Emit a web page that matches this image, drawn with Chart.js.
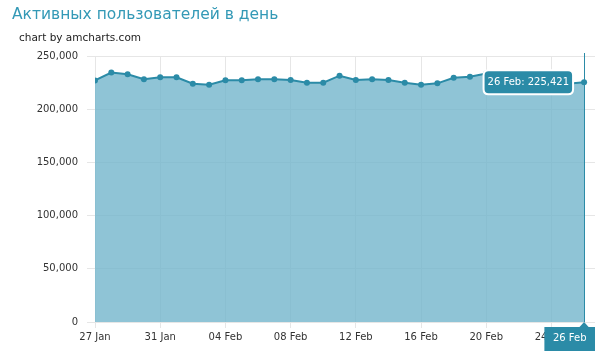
<!DOCTYPE html>
<html>
<head>
<meta charset="utf-8">
<script src="https://cdn.jsdelivr.net/npm/chart.js@4/dist/chart.umd.min.js"></script>
<style>
  html, body { margin: 0; padding: 0; background: #fff; }
  #wrap { position: relative; width: 600px; height: 353px; overflow: hidden; }
  #chart { position: absolute; left: 0; top: 0; }
  .title { position: absolute; left: 12px; top: 4px; font-family: "DejaVu Sans", Verdana, sans-serif; font-size: 15.5px; line-height: 20px; color: #3399b6; white-space: nowrap; }
  .sub { position: absolute; left: 19px; top: 31px; font-family: "DejaVu Sans", Verdana, sans-serif; font-size: 10.5px; line-height: 13px; color: #222; white-space: nowrap; }
</style>
</head>
<body>
<div id="wrap">
  <canvas id="chart" width="600" height="353"></canvas>
  <div class="title">Активных пользователей в день</div>
  <div class="sub">chart by amcharts.com</div>
</div>
<script>
// ---- data ----
const dates = ["27 Jan","28 Jan","29 Jan","30 Jan","31 Jan",
  "01 Feb","02 Feb","03 Feb","04 Feb","05 Feb","06 Feb","07 Feb","08 Feb","09 Feb","10 Feb",
  "11 Feb","12 Feb","13 Feb","14 Feb","15 Feb","16 Feb","17 Feb","18 Feb","19 Feb","20 Feb",
  "21 Feb","22 Feb","23 Feb","24 Feb","25 Feb","26 Feb"];
const users = [227000,234500,232800,228100,230000,
  230000,224000,223000,227200,227200,228100,228100,227400,224900,224900,
  231500,227400,228100,227400,224900,223000,224300,229600,230500,233500,
  233000,231000,229000,226000,224000,225421];
const xTickIndexes = [0,4,8,12,16,20,24,28];
const yTickValues = [0,50000,100000,150000,200000,250000];
const cursorIndex = 30;

const teal = '#2b8ba7';
const fontFamily = '"DejaVu Sans", Verdana, sans-serif';
const fmt = v => String(Math.round(v)).replace(/\B(?=(\d{3})+(?!\d))/g, ',');

const cursorPlugin = {
  id: 'cursorPlugin',
  afterDraw(chart) {
    const ctx = chart.ctx;
    const area = chart.chartArea;
    const x = chart.scales.x.getPixelForValue(cursorIndex);
    ctx.save();
    ctx.strokeStyle = teal;
    ctx.lineWidth = 1;
    ctx.beginPath();
    ctx.moveTo(Math.round(x) + 0.5, area.top - 3);
    ctx.lineTo(Math.round(x) + 0.5, area.bottom);
    ctx.stroke();

    const label = dates[cursorIndex];
    ctx.font = '10px ' + fontFamily;
    const w = ctx.measureText(label).width + 17;
    const h = 24;
    const top = area.bottom + 5;
    let left = x - w / 2;
    left = Math.min(left, chart.width - 5 - w);
    ctx.fillStyle = teal;
    ctx.fillRect(left, top, w, h);
    ctx.beginPath();
    ctx.moveTo(x - 5, top + 0.5);
    ctx.lineTo(x, area.bottom);
    ctx.lineTo(x + 5, top + 0.5);
    ctx.closePath();
    ctx.fill();
    ctx.fillStyle = '#fff';
    ctx.textAlign = 'center';
    ctx.textBaseline = 'middle';
    ctx.fillText(label, left + w / 2, top + h / 2 - 1);
    ctx.restore();
  }
};

const chart = new Chart(document.getElementById('chart'), {
  type: 'line',
  data: {
    datasets: [{
      data: users.map((v, i) => ({ x: i, y: v })),
      borderColor: teal,
      backgroundColor: 'rgba(115,181,204,0.8)',
      fill: 'origin',
      borderWidth: 2,
      pointRadius: 3,
      pointBackgroundColor: teal,
      pointBorderWidth: 0,
      tension: 0
    }]
  },
  options: {
    responsive: false,
    animation: false,
    devicePixelRatio: 1,
    events: [],
    layout: { padding: { top: 56, right: 5, left: 0, bottom: 0 } },
    plugins: {
      legend: { display: false },
      title: { display: false },
      tooltip: {
        enabled: true,
        backgroundColor: teal,
        borderColor: '#ffffff',
        borderWidth: 2,
        cornerRadius: 5,
        caretSize: 0,
        caretPadding: 11,
        xAlign: 'right',
        yAlign: 'center',
        displayColors: false,
        bodyColor: '#ffffff',
        bodyFont: { family: fontFamily, size: 10 },
        padding: { top: 6, bottom: 6, left: 4, right: 4 },
        callbacks: {
          title: () => [],
          label: (c) => dates[c.dataIndex] + ': ' + fmt(c.parsed.y)
        }
      }
    },
    scales: {
      x: {
        type: 'linear',
        min: 0,
        max: 30.67,
        afterBuildTicks: s => { s.ticks = xTickIndexes.map(v => ({ value: v })); },
        afterFit: s => { s.height = 31; },
        grid: { color: '#e6e6e6', tickLength: 6, drawTicks: true },
        border: { display: false },
        ticks: {
          autoSkip: false, maxRotation: 0, padding: 3,
          color: '#333', font: { family: fontFamily, size: 10 },
          callback: v => dates[v]
        }
      },
      y: {
        min: 0,
        max: 250000,
        afterBuildTicks: s => { s.ticks = yTickValues.map(v => ({ value: v })); },
        afterFit: s => { s.width = 95; },
        grid: { color: '#e6e6e6', tickLength: 8, drawTicks: true },
        border: { display: false },
        ticks: {
          padding: 9, color: '#333', font: { family: fontFamily, size: 10 },
          callback: v => fmt(v)
        }
      }
    }
  },
  plugins: [cursorPlugin]
});
chart.tooltip.setActiveElements([{ datasetIndex: 0, index: cursorIndex }], { x: 0, y: 0 });
chart.update('none');
</script>
</body>
</html>
